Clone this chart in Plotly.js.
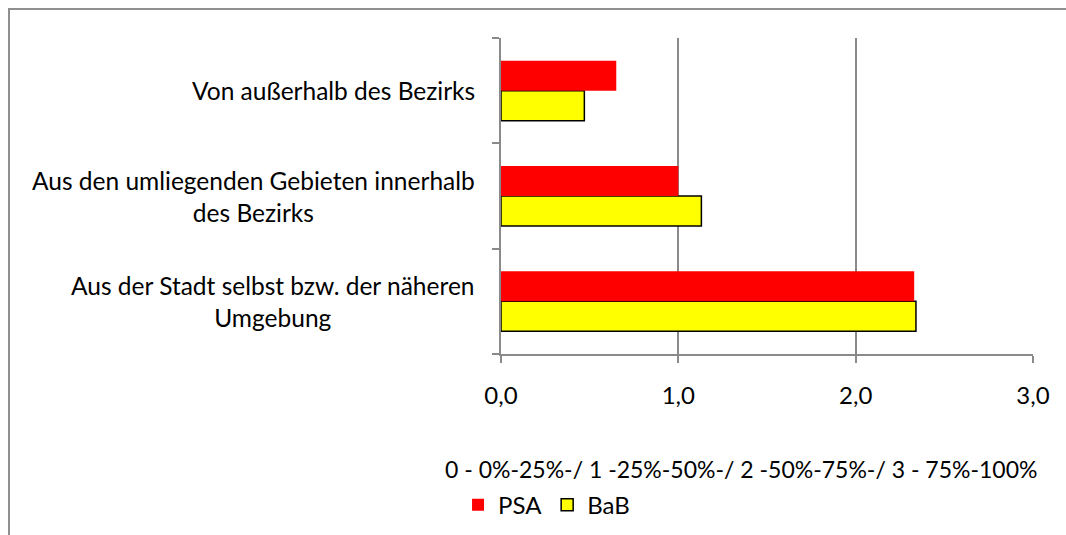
<!DOCTYPE html>
<html>
<head>
<meta charset="utf-8">
<script src="https://cdn.plot.ly/plotly-3.0.1.min.js"></script>
<style>
html,body{margin:0;padding:0;background:#fff;}
#wrap{position:relative;width:1066px;height:535px;overflow:hidden;}
#frame{position:absolute;left:8px;top:8px;width:1200px;height:700px;border-left:2px solid #8f8f8f;border-top:2px solid #8f8f8f;box-sizing:border-box;}
#chart{position:absolute;left:0;top:0;width:1066px;height:535px;}
</style>
</head>
<body>
<div id="wrap"><div id="frame"></div><div id="chart"></div></div>
<script>
// categories from bottom to top
const categories = [
  "Aus der Stadt selbst bzw. der näheren Umgebung",
  "Aus den umliegenden Gebieten innerhalb des Bezirks",
  "Von außerhalb des Bezirks"
];
const categoryLabels = [
  "Aus der Stadt selbst bzw. der näheren<br>Umgebung",
  "Aus den umliegenden Gebieten innerhalb<br>des Bezirks",
  "Von außerhalb des Bezirks"
];
const psaValues = [2.33, 1.0, 0.65];
const babValues = [2.34, 1.13, 0.47];
const xTickValues = [0, 1, 2, 3];
const xTickLabels = ["0,0", "1,0", "2,0", "3,0"];
const xAxisTitle = "0 - 0%-25%-/ 1 -25%-50%-/ 2 -50%-75%-/ 3 - 75%-100%";

const FONT = "Lato, 'Open Sans', sans-serif";
const FS = 24;

const traces = [
  {
    type: "bar", orientation: "h", name: "BaB",
    y: categories, x: babValues,
    marker: {color: "#ffff00", line: {color: "#000000", width: 1.5}},
    legendrank: 2, hoverinfo: "x+name"
  },
  {
    type: "bar", orientation: "h", name: "PSA",
    y: categories, x: psaValues,
    marker: {color: "#ff0000", line: {color: "#ff0000", width: 0}},
    legendrank: 1, hoverinfo: "x+name"
  }
];

const annotations = categories.map((c, i) => ({
  xref: "paper", yref: "y", x: 0, y: c,
  xanchor: "right", yanchor: "middle", xshift: -24,
  align: "center", showarrow: false,
  text: categoryLabels[i],
  font: {family: FONT, size: 24.5, color: "#000"}
}));
// x-axis title (offset left of plot centre as in the original)
annotations.push({
  xref: "paper", yref: "paper", x: 0.451, y: -0.364,
  xanchor: "center", yanchor: "middle", showarrow: false,
  text: xAxisTitle,
  font: {family: FONT, size: 23, color: "#000"}
});

const layout = {
  width: 1066, height: 535,
  margin: {l: 501, r: 33, t: 38, b: 181, pad: 0, autoexpand: false},
  paper_bgcolor: "rgba(0,0,0,0)",
  plot_bgcolor: "rgba(0,0,0,0)",
  barmode: "group",
  bargap: 0.43, bargroupgap: 0,
  font: {family: FONT, size: FS, color: "#000"},
  separators: ",.",
  xaxis: {
    range: [0, 3], tickvals: xTickValues, ticktext: xTickLabels,
    showgrid: true, gridcolor: "#8a8a8a", gridwidth: 1.8,
    zeroline: false,
    showline: true, linecolor: "#8a8a8a", linewidth: 1.8,
    ticks: "outside", ticklen: 7, tickcolor: "#8a8a8a", tickwidth: 1.8,
    ticklabelstandoff: 12,
    tickfont: {family: FONT, size: FS, color: "#000"},
    fixedrange: true
  },
  yaxis: {
    type: "category", categoryorder: "array", categoryarray: categories,
    showticklabels: false,
    showgrid: false, zeroline: false,
    showline: true, linecolor: "#8a8a8a", linewidth: 1.8,
    ticks: "outside", ticklen: 7, tickcolor: "#8a8a8a", tickwidth: 1.8,
    tickson: "boundaries",
    fixedrange: true
  },
  showlegend: true,
  legend: {
    orientation: "h", x: 0.0856, xanchor: "center", y: -0.4785, yanchor: "middle",
    font: {family: FONT, size: FS, color: "#000"},
    itemwidth: 30, traceorder: "normal", bgcolor: "rgba(0,0,0,0)"
  },
  annotations: annotations
};

Plotly.newPlot("chart", traces, layout, {displayModeBar: false, staticPlot: true});
</script>
</body>
</html>
